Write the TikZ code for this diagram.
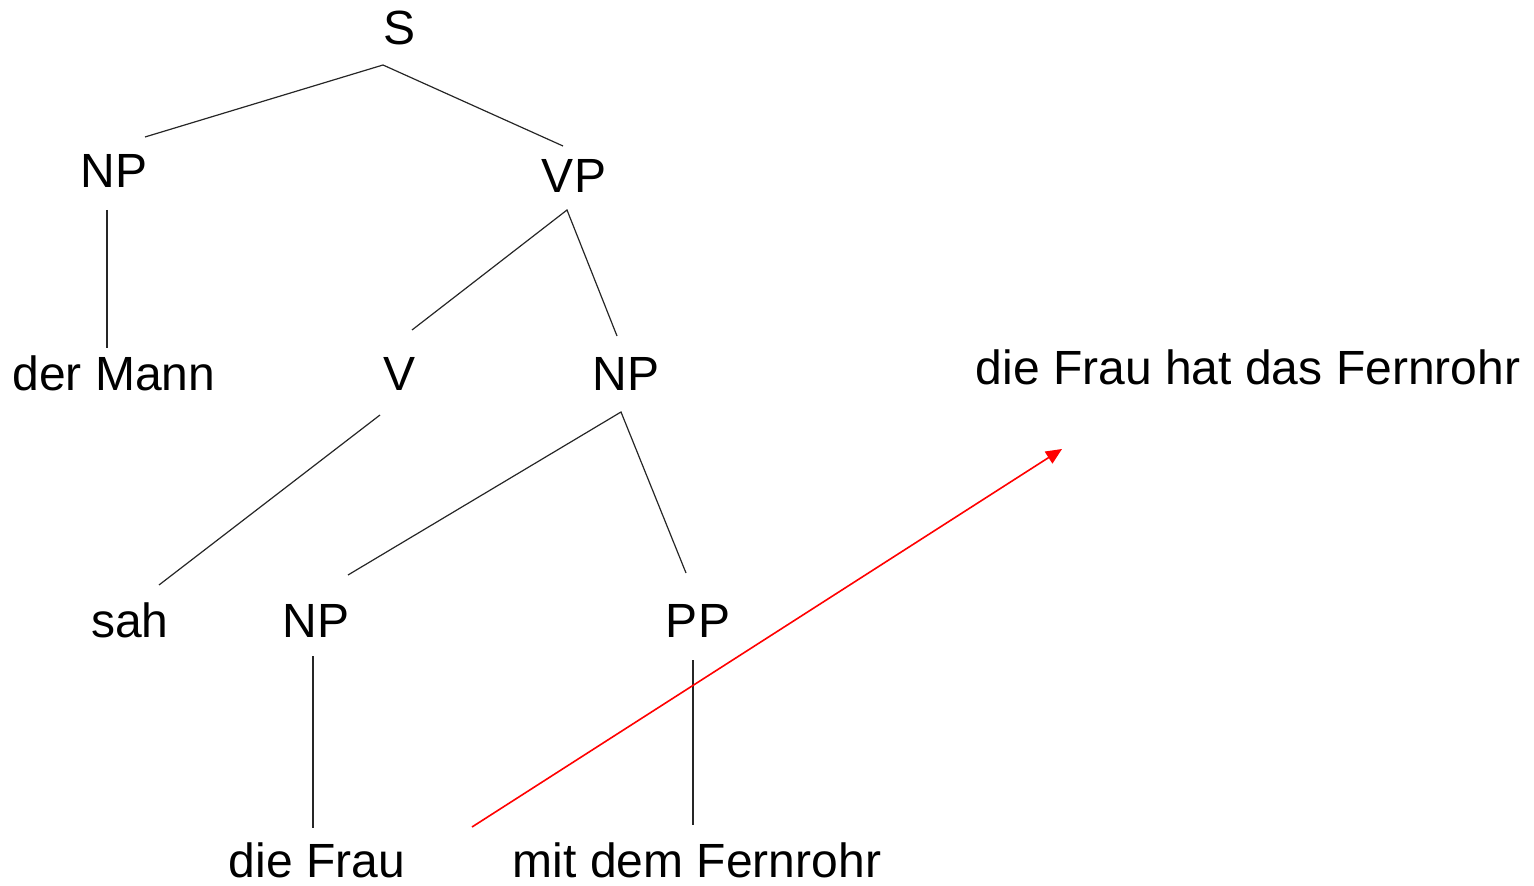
\documentclass[tikz,border=0pt]{standalone}
\usepackage{fontspec}
\setmainfont{Liberation Sans}
\usetikzlibrary{arrows.meta}
\begin{document}
\begin{tikzpicture}[x=0.5pt,y=-0.5pt,
  lbl/.style={anchor=base,inner sep=0pt,font=\fontsize{24}{28}\selectfont},
  edge/.style={line width=0.6pt,black!85},
  redarr/.style={line width=0.8pt,red,-{Triangle[length=8pt,width=7pt]}}]
\useasboundingbox (0,0) rectangle (1534,886);
% nodes (base positions)
\node[lbl] (S) at (400,45) {S};
\node[lbl] (NPa) at (114,188) {NP};
\node[lbl] (VP) at (574,193) {VP};
\node[lbl] (dM) at (114,391) {der Mann};
\node[lbl] (V) at (400,391) {V};
\node[lbl] (NPb) at (626,391) {NP};
\node[lbl] (sah) at (130,637) {sah};
\node[lbl] (NPc) at (316,637) {NP};
\node[lbl] (PP) at (698,637) {PP};
\node[lbl,text depth=0pt] (dF) at (317,877) {die Frau};
\node[lbl,text depth=0pt] (mdF) at (697,877) {mit dem Fernrohr};
\node[lbl] (txt) at (1248,385) {die Frau hat das Fernrohr};
% connector end points
\coordinate (S-b) at (383,65);
\coordinate (NPa-t) at (145,137);
\coordinate (VP-t) at (563,146);
\coordinate (NPa-b) at (107,210);
\coordinate (dM-t) at (107,348);
\coordinate (VP-b) at (567,210);
\coordinate (V-t) at (412,330);
\coordinate (NPb-t) at (617,336);
\coordinate (V-b) at (380,415);
\coordinate (sah-t) at (159,585);
\coordinate (NPb-b) at (621,412);
\coordinate (NPc-t) at (348,575);
\coordinate (PP-t) at (686,573);
\coordinate (NPc-b) at (313,656);
\coordinate (dF-t) at (313,828);
\coordinate (PP-b) at (693,660);
\coordinate (mdF-t) at (693,825);
\coordinate (arr-s) at (472,827);
\coordinate (arr-e) at (1062,449);
% connectors
\draw[edge] (NPa-t) -- (S-b) -- (VP-t);
\draw[edge] (NPa-b) -- (dM-t);
\draw[edge] (V-t) -- (VP-b) -- (NPb-t);
\draw[edge] (V-b) -- (sah-t);
\draw[edge] (NPc-t) -- (NPb-b) -- (PP-t);
\draw[edge] (NPc-b) -- (dF-t);
\draw[edge] (PP-b) -- (mdF-t);
\draw[redarr] (arr-s) -- (arr-e);
\end{tikzpicture}
\end{document}
